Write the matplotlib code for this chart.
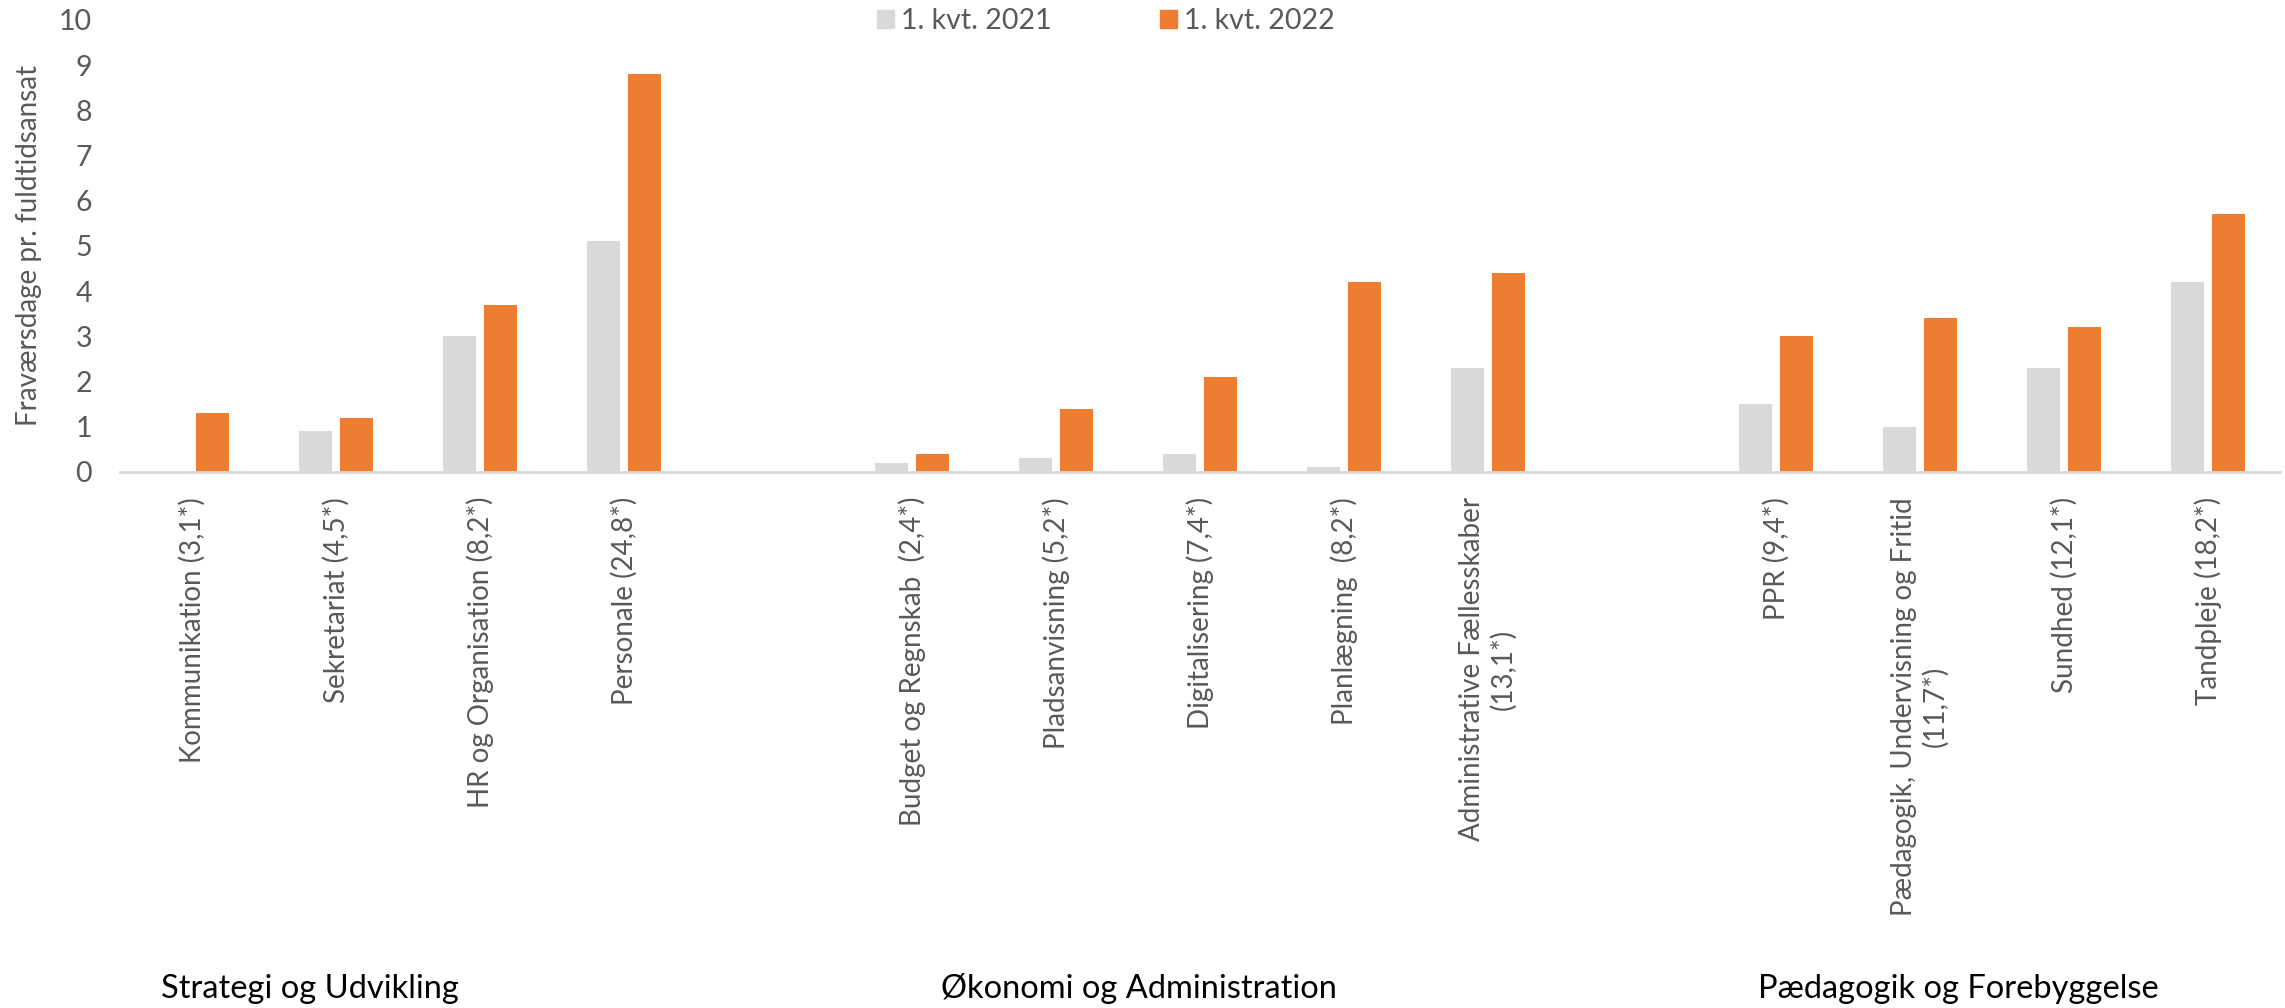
import numpy as np
import matplotlib
matplotlib.use('Agg')
import matplotlib.pyplot as plt
from matplotlib.patches import Patch

plt.rcParams['font.family'] = ['Lato', 'DejaVu Sans']

TEXT = '#595959'
GREY = '#D9D9D9'
ORANGE = '#ED7D31'

groups = ['Strategi og Udvikling', 'Økonomi og Administration', 'Pædagogik og Forebyggelse']
categories = [
    ['Kommunikation (3,1*)', 'Sekretariat (4,5*)', 'HR og Organisation (8,2*)', 'Personale (24,8*)'],
    ['Budget og Regnskab  (2,4*)', 'Pladsanvisning (5,2*)', 'Digitalisering (7,4*)',
     'Planlægning  (8,2*)', 'Administrative Fællesskaber\n(13,1*)'],
    ['PPR (9,4*)', 'Pædagogik, Undervisning og Fritid\n(11,7*)', 'Sundhed (12,1*)', 'Tandpleje (18,2*)'],
]
q1_2021 = [0.0, 0.9, 3.0, 5.1, 0.2, 0.3, 0.4, 0.1, 2.3, 1.5, 1.0, 2.3, 4.2]
q1_2022 = [1.3, 1.2, 3.7, 8.8, 0.4, 1.4, 2.1, 4.2, 4.4, 3.0, 3.4, 3.2, 5.7]
series_names = ['1. kvt. 2021', '1. kvt. 2022']

# x positions: one empty slot between groups
pos = []
labels = []
slot = 0
for g, cats in enumerate(categories):
    for c in cats:
        pos.append(slot)
        labels.append(c)
        slot += 1
    slot += 1
n_slots = slot - 1
pos = np.array(pos)

fig = plt.figure(figsize=(22.85, 10.08), dpi=100)
ax = fig.add_axes([120 / 2285, 1 - 472 / 1008, 2160 / 2285, 452 / 1008])

w = 0.229
off = 0.14
ax.bar(pos - off, q1_2021, width=w, color=GREY, label=series_names[0])
ax.bar(pos + off, q1_2022, width=w, color=ORANGE, label=series_names[1])

ax.set_xlim(-0.5, n_slots - 0.5)
ax.set_ylim(0, 10)
ax.set_yticks(range(0, 11))
ax.tick_params(axis='y', length=0, pad=20, labelsize=20.5, labelcolor=TEXT)
ax.set_xticks(pos)
ax.set_xticklabels(labels, rotation=90, fontsize=20, color=TEXT,
                   ha='center', va='top', multialignment='center')
ax.tick_params(axis='x', length=0, pad=18)

for s in ['top', 'right', 'left']:
    ax.spines[s].set_visible(False)
ax.spines['bottom'].set_color(GREY)
ax.spines['bottom'].set_linewidth(2)

ax.set_ylabel('Fraværsdage pr. fuldtidsansat', fontsize=20, color=TEXT)
ax.yaxis.set_label_coords(-0.036, 0.5)

handles = [Patch(color=GREY), Patch(color=ORANGE)]
fig.legend(handles, series_names, loc='center', bbox_to_anchor=(1106 / 2285, 1 - 21 / 1008),
           ncol=2, frameon=False, fontsize=20.5, labelcolor=TEXT,
           handlelength=0.6, handleheight=0.6, handletextpad=0.25,
           columnspacing=3.8, borderpad=0)

group_x = [310, 1139, 1958]
for name, gx in zip(groups, group_x):
    fig.text(gx / 2285, 10 / 1008, name, ha='center', va='baseline', fontsize=23.5, color='black')

fig.savefig('out.png', dpi=100, facecolor='white')
